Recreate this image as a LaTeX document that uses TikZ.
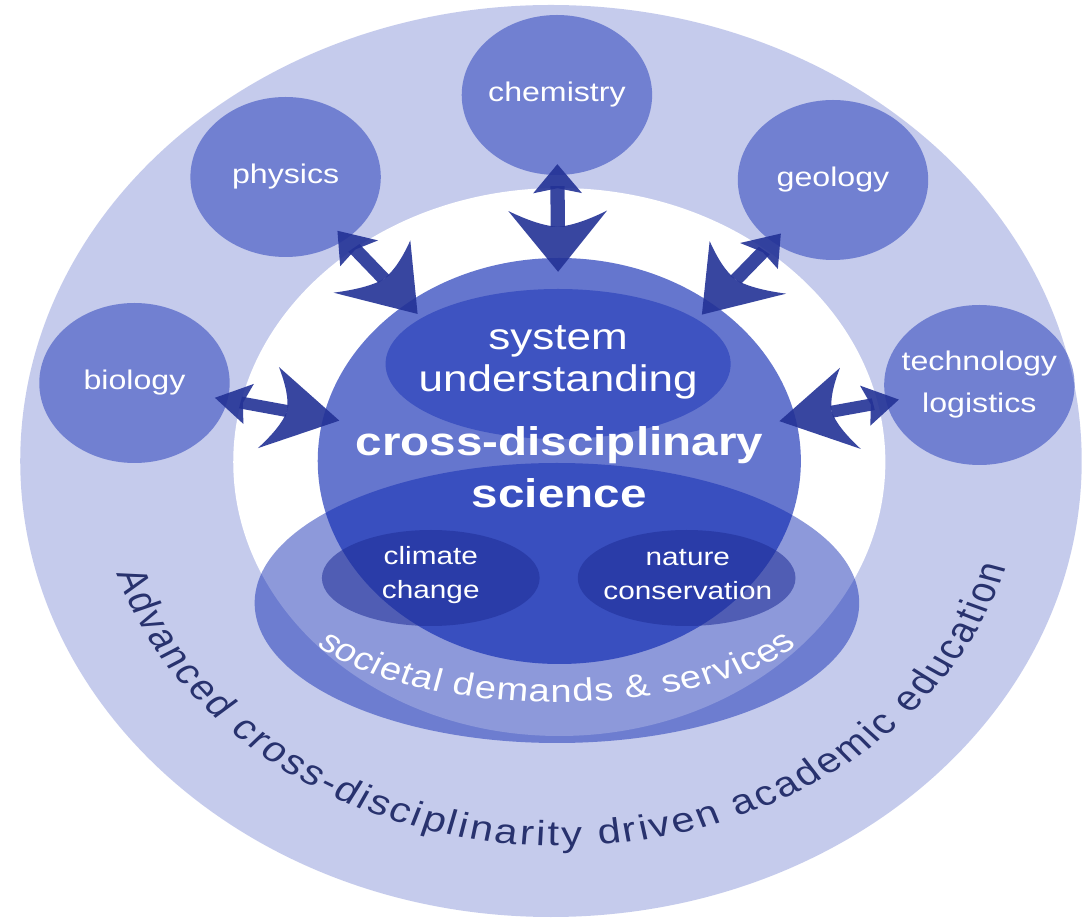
\documentclass[tikz,border=0pt]{standalone}
\usepackage{fontspec}
\setmainfont{Liberation Sans}
\usetikzlibrary{arrows.meta,shapes.geometric,decorations.text,calc}
\definecolor{sbblue}{RGB}{7,34,176}
\definecolor{arrowblue}{RGB}{35,50,150}
\definecolor{topicblue}{RGB}{30,45,150}
\definecolor{navy}{RGB}{40,50,110}
% big swept-back head at the core end of a link
\pgfdeclarearrow{
  name = Fluke,
  setup code = {
    \pgfarrowssettipend{0pt}
    \pgfarrowssetbackend{-61pt}
    \pgfarrowssetlineend{-45pt}
    \pgfarrowshullpoint{0pt}{0pt}
    \pgfarrowsupperhullpoint{-61pt}{41.5pt}
  },
  drawing code = {
    \pgfpathmoveto{\pgfpointorigin}
    \pgfpathlineto{\pgfpoint{-61pt}{41.5pt}}
    \pgfpathcurveto{\pgfpoint{-52pt}{26pt}}{\pgfpoint{-46pt}{12pt}}{\pgfpoint{-45pt}{0pt}}
    \pgfpathcurveto{\pgfpoint{-46pt}{-12pt}}{\pgfpoint{-52pt}{-26pt}}{\pgfpoint{-61pt}{-41.5pt}}
    \pgfpathclose
    \pgfusepathqfill
  }
}
% small head at the discipline end
\pgfdeclarearrow{
  name = Dart,
  setup code = {
    \pgfarrowssettipend{0pt}
    \pgfarrowssetbackend{-29pt}
    \pgfarrowssetlineend{-22pt}
    \pgfarrowshullpoint{0pt}{0pt}
    \pgfarrowsupperhullpoint{-29pt}{20.5pt}
  },
  drawing code = {
    \pgfpathmoveto{\pgfpointorigin}
    \pgfpathlineto{\pgfpoint{-29pt}{20.5pt}}
    \pgfpathlineto{\pgfpoint{-24pt}{0pt}}
    \pgfpathlineto{\pgfpoint{-29pt}{-20.5pt}}
    \pgfpathclose
    \pgfusepathqfill
  }
}
\tikzset{
  discipline/.style={circle, fill=sbblue, fill opacity=0.44, text opacity=1, text=white,
                     minimum size=160pt, inner sep=0pt, align=center, font={\fontsize{27}{42}\selectfont}},
  topic/.style={ellipse, fill=topicblue, fill opacity=0.55, minimum width=183pt, minimum height=96pt, inner sep=0pt},
  topiclabel/.style={text=white, align=center, font={\fontsize{25}{34}\selectfont}},
  layer/.style={fill=sbblue, inner sep=0pt},
  link/.style={line width=12pt, draw=arrowblue, opacity=0.9, {Dart}-{Fluke},
               shorten <=-11pt, shorten >=-14pt},
}

\begin{document}
\begin{tikzpicture}[x=1pt,y=1pt]
  \useasboundingbox (0,0) rectangle (1082,919);
  \fill[white] (0,0) rectangle (1082,919);
  \clip (0,0) rectangle (1082,919);
  \begin{scope}[transform canvas={xscale=1.19}]
    % education ring and free space
    \node[ellipse, layer, fill opacity=0.23, minimum width=892pt, minimum height=912pt] (ring) at (463,458) {};
    \node[circle, fill=white, minimum size=548pt] (space) at (470,457) {};
    % disciplines
    \node[discipline] (chem) at (468,824) {chemistry};
    \node[discipline] (phys) at (240,742) {physics};
    \node[discipline] (geo) at (700,739) {geology};
    \node[discipline] (bio) at (113,536) {biology};
    \node[discipline] (tech) at (823,534) {technology\\logistics};
    % society, core and system understanding
    \node[ellipse, layer, fill opacity=0.46, minimum width=508pt, minimum height=280pt] (society) at (468,316) {};
    \node[circle, layer, fill opacity=0.62, minimum size=406pt] (core) at (470,458) {};
    \node[ellipse, layer, fill opacity=0.41, minimum width=290pt, minimum height=150pt] (sys) at (469,555) {};
    \node[topic] (climate) at (362,341) {};
    \node[topic] (nature) at (577,341) {};
    % links
    \foreach \d in {chem,phys,geo,bio,tech}
      \draw[link] (\d) -- (core);
    % labels
    \node[topiclabel] (climatelabel) at (362,344) {climate\\change};
    \node[topiclabel] (naturelabel) at (578,344) {nature\\conservation};
    \node[text=white, align=center, font={\fontsize{37}{42}\selectfont}] (syslabel) at (469,557) {system\\understanding};
    \node[text=white, align=center, font={\bfseries\fontsize{40}{52}\selectfont}] (corelabel) at (470,452) {cross-disciplinary\\science};
    \coordinate (edu) at (471,458);
    \path[decorate, decoration={text along path, text align=fit to path,
        text={|\fontsize{32}{32}\selectfont\color{white}|societal demands {\&} services}}]
      ($(society.center)+(205:223pt and 99pt)$) arc[start angle=205, end angle=335, x radius=223pt, y radius=99pt];
    \path[decorate, decoration={text along path, text align=fit to path,
        text={|\fontsize{35}{35}\selectfont\color{navy}|Advanced cross-disciplinarity driven academic education}}]
      ($(edu)+(197:390pt and 385pt)$) arc[start angle=197, end angle=344, x radius=390pt, y radius=385pt];
  \end{scope}
\end{tikzpicture}
\end{document}
